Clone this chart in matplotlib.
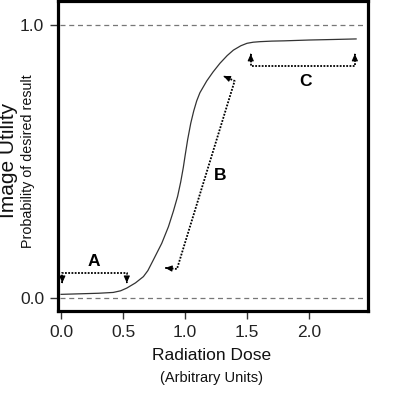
import numpy as np
import matplotlib.pyplot as plt

plt.rcParams['font.family'] = ['Liberation Sans', 'DejaVu Sans']

# dose-response curve
dose = [0.0, 0.15, 0.30, 0.42, 0.48, 0.53, 0.60, 0.664, 0.70, 0.744, 0.812,
        0.866, 0.906, 0.940, 0.965, 0.986, 1.000, 1.021, 1.046, 1.070, 1.094,
        1.12, 1.175, 1.226, 1.282, 1.34, 1.39, 1.45, 1.50, 1.55, 1.605, 1.70,
        1.80, 2.0, 2.2, 2.38]
utility = [0.013, 0.015, 0.017, 0.020, 0.026, 0.036, 0.055, 0.078, 0.100,
           0.139, 0.200, 0.261, 0.318, 0.372, 0.425, 0.478, 0.520, 0.580,
           0.640, 0.685, 0.722, 0.752, 0.795, 0.828, 0.860, 0.888, 0.908,
           0.924, 0.933, 0.937, 0.939, 0.941, 0.942, 0.945, 0.947, 0.949]

# dotted brackets (x, y) - arrowheads sit on first and last point
bracket_a = [(0.01, 0.055), (0.01, 0.092), (0.53, 0.092), (0.53, 0.055)]
bracket_b = [(0.84, 0.11), (0.935, 0.106), (1.40, 0.795), (1.31, 0.813)]
bracket_c = [(1.53, 0.894), (1.53, 0.85), (2.37, 0.85), (2.37, 0.894)]
labels = {'A': (0.26, 0.133), 'B': (1.282, 0.45), 'C': (1.97, 0.792)}

xticks = [0.0, 0.5, 1.0, 1.5, 2.0]
yticks = [0.0, 1.0]

fig = plt.figure(figsize=(3.96, 4.0), dpi=100)
ax = fig.add_axes([58 / 396, 1 - 311 / 400, 310 / 396, 310 / 400])

ax.plot(dose, utility, color='#333333', lw=0.9, solid_joinstyle='round')

for yy in yticks:
    ax.axhline(yy, xmin=0.005, xmax=0.985, color='#777777', lw=0.9,
               ls=(0, (4, 3)))


def draw_bracket(pts):
    xs = [p[0] for p in pts]
    ys = [p[1] for p in pts]
    ax.plot(xs, ys, color='black', lw=1.3, ls=(0, (1, 0.8)))
    # arrowheads at both ends
    for tip, prev in [(pts[0], pts[1]), (pts[-1], pts[-2])]:
        dx = tip[0] - prev[0]
        dy = tip[1] - prev[1]
        ax.annotate('', xy=tip, xytext=(tip[0] - dx * 0.05, tip[1] - dy * 0.05),
                    arrowprops=dict(arrowstyle='-|>,head_length=0.4,head_width=0.18',
                                    color='black', lw=0.8, shrinkA=0, shrinkB=0))


for b in [bracket_a, bracket_b, bracket_c]:
    draw_bracket(b)

for name, (lx, ly) in labels.items():
    ax.text(lx, ly, name, fontsize=12.5, fontweight='bold', ha='center',
            va='center')

ax.set_xlim(-0.025, 2.476)
ax.set_ylim(-0.048, 1.088)
ax.set_xticks(xticks)
ax.set_xticklabels([f'{v:.1f}' for v in xticks])
ax.set_yticks(yticks)
ax.set_yticklabels([f'{v:.1f}' for v in yticks])
ax.tick_params(direction='out', length=6, width=1.0, labelsize=12.5,
               color='#333333', labelcolor='#222222', pad=4)
for s in ax.spines.values():
    s.set_linewidth(2.3)

fig.text(212 / 396, 1 - 355 / 400, 'Radiation Dose', fontsize=12.5,
         ha='center', va='center', color='#111111')
fig.text(212 / 396, 1 - 378 / 400, '(Arbitrary Units)', fontsize=10.5,
         ha='center', va='center', color='#111111')
fig.text(9 / 396, 1 - 160 / 400, 'Image Utility', fontsize=15,
         rotation=90, ha='center', va='center', color='#111111')
fig.text(28 / 396, 1 - 161 / 400, 'Probability of desired result',
         fontsize=10.3, rotation=90, ha='center', va='center',
         color='#111111')

fig.savefig('out.png', dpi=100)
